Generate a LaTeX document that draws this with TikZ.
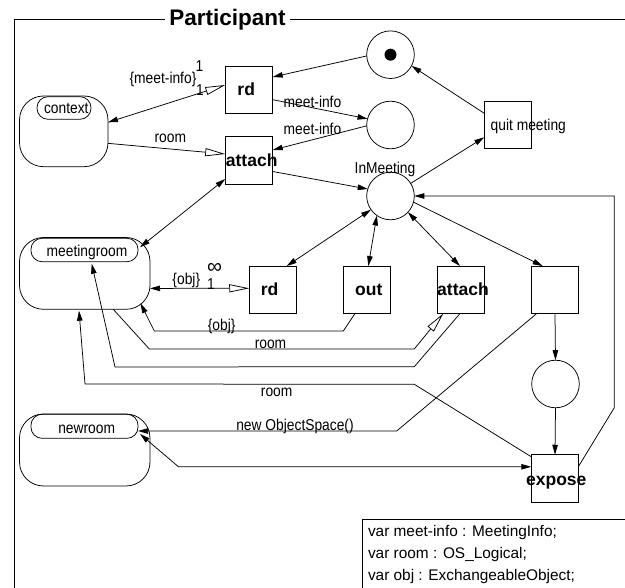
\documentclass[tikz,border=0pt]{standalone}
\usepackage{fontspec}
\usepackage{graphicx}
\setmainfont{Liberation Sans}
\usetikzlibrary{arrows.meta}
\newcommand{\tallt}[1]{\scalebox{1}[1.14]{#1}}
\tikzset{
  ft/.tip={Triangle[length=10pt,width=5.5pt]},
  ot/.tip={Triangle[length=20pt,width=8pt,fill=white]}
}
\begin{document}
\begin{tikzpicture}[x=1pt,y=-1pt,
  every node/.style={inner sep=0pt, outer sep=0pt},
  lw/.style={line width=0.75pt},
  trans/.style={draw, lw, minimum width=47.5pt, minimum height=47.5pt},
  place/.style={draw, lw, circle, minimum size=47.6pt},
  sbox/.style={draw, lw, rounded corners=24pt},
  tab/.style={draw, lw, rounded corners=11pt},
  rl/.style={font=\fontsize{13.8}{16}\selectfont, anchor=base},
  bl/.style={font=\fontsize{17.5}{20}\selectfont\bfseries, anchor=base},
  vl/.style={font=\fontsize{15.4}{18}\selectfont, anchor=base west}
]
\useasboundingbox (0,0) rectangle (625,588);

% frame
\coordinate (fl) at (14,19.5);
\coordinate (fb) at (14,590);
\coordinate (fr) at (626,19.5);
\node[font=\fontsize{22.5}{26}\selectfont\bfseries, anchor=base, inner xsep=4.5pt] (title) at (227.5,25.1) {Participant};
\draw[lw] (fb) -- (fl) -- (title.west |- fl);
\draw[lw] (title.east |- fl) -- (fr);

% transitions
\node[trans] (rd1) at (249,89.7) {};
\node[trans] (att1) at (249,160.5) {};
\node[trans] (quit) at (508,125) {};
\node[trans] (rd2) at (273,289.8) {};
\node[trans] (out) at (367,289.8) {};
\node[trans] (att2) at (461,289.8) {};
\node[trans] (blank) at (555,289.8) {};
\node[trans] (expo) at (555,478.5) {};

% places
\node[place] (tok) at (390.5,54.7) {};
\node[circle, fill, minimum size=12pt] (tokdot) at (tok) {};
\node[place] (p2) at (390.5,125) {};
\node[place] (inm) at (390.5,196) {};
\node[place] (p4) at (555.5,384) {};

% super states
\node[sbox, minimum width=88.5pt, minimum height=70.7pt] (ctx) at (63.75,131.35) {};
\node[tab, minimum width=54pt, minimum height=22.6pt] (ctxt) at (64,108) {};
\node[sbox, minimum width=130.5pt, minimum height=71.8pt] (mr) at (84.75,273.4) {};
\node[tab, minimum width=107pt, minimum height=23.4pt] (mrt) at (84.5,250) {};
\node[sbox, minimum width=130.5pt, minimum height=72pt] (nr) at (84.75,450) {};
\node[tab, minimum width=107pt, minimum height=24pt] (nrt) at (84.5,426.3) {};

% connectors
\draw[lw, -ft] (tok.183) -- ([yshift=12.7pt]rd1.east);
\draw[lw, -ft] ([yshift=-10pt]rd1.east) -- (p2.165);
\draw[lw, -ft] (p2.182) -- ([yshift=10.5pt]att1.east);
\draw[lw, -ot] ([yshift=-12pt]ctx.east) -- ([yshift=6.5pt]att1.west);
\draw[lw, ft-ot] ([yshift=9pt]ctx.east) -- ([yshift=4.7pt]rd1.west);
\draw[lw, -ft] ([yshift=-11pt]att1.east) -- (inm.163);
\draw[lw, -ft] (inm.32) -- ([yshift=-12.3pt]quit.west);
\draw[lw, -ft] ([yshift=11.7pt]quit.west) -- (tok.-28);
\draw[lw, ft-ft] ([xshift=-10pt,yshift=-9.8pt]mr.north east) -- ([yshift=-18.5pt]att1.west);
\draw[lw, ft-ft] (inm.215) -- ([xshift=13.7pt]rd2.north);
\draw[lw, ft-ft] (inm.235) -- ([xshift=1.3pt]out.north);
\draw[lw, ft-ft] (inm.-43) -- ([xshift=-1pt]att2.north);
\draw[lw, -ft] (inm.-15) -- ([xshift=-12.3pt]blank.north);
\draw[lw, -ft] ([yshift=12.5pt]expo.east) -- (614.3,407.7) |- (inm.east);
\draw[lw, ft-ot] ([yshift=-15pt]mr.east) -- ([yshift=1.5pt]rd2.west);
\draw[lw, -ft] ([xshift=-12pt]out.south) -- (343.3,331) -- (154.3,331) -- ([xshift=-9.5pt,yshift=6pt]mr.south east);
\draw[lw, -ot] ([xshift=28.5pt]mr.south) -- (149.3,349) -- (414.3,349) -- ([xshift=-17.7pt]att2.south);
\draw[lw, -ft] ([xshift=-1pt]att2.south) -- (414.3,366.7) -- (115,367) -- ([xshift=7.2pt,yshift=-2pt]mrt.south);
\draw[lw, -ft] ([yshift=-2pt]expo.north west) -- (414.3,384.3) -- (85,384) -- ([xshift=-5.75pt,yshift=-1.4pt]mr.south);
\draw[lw, -ft] ([xshift=-18.3pt]blank.south) -- (396.7,431) -- ([yshift=-4.7pt]nrt.east);
\draw[lw, -ft] (blank.south) -- (p4.north);
\draw[lw, -ft] (p4.south) -- (expo.north);
\draw[lw, ft-ft] ([xshift=2pt,yshift=-7.7pt]nrt.east) -- (178.5,466.8) -- ([yshift=11.7pt]expo.west);

% node texts
\node[bl] (rd1l) at (246.2,95.7) {rd};
\node[bl] (att1l) at (251.7,166.7) {attach};
\node[bl] (rd2l) at (269.5,296) {rd};
\node[bl] (outl) at (368.8,296) {out};
\node[bl] (att2l) at (463,296) {attach};
\node[bl] (expol) at (556.3,486) {expose};
\node[rl, anchor=base west] (quitl) at (490.7,130.7) {\tallt{quit meeting}};
\node[rl] (inml) at (385,173.3) {\tallt{InMeeting}};
\node[rl] (ctxl) at (66.3,113.3) {\tallt{context}};
\node[rl] (mrl) at (87,256.7) {\tallt{meetingroom}};
\node[rl] (nrl) at (86.7,433.3) {\tallt{newroom}};

% connector labels
\node[rl] (lmi) at (163,83.3) {\tallt{\{meet-info\}}};
\node[rl] (l1a) at (199.5,71.7) {\tallt{1}};
\node[rl] (l1b) at (200,95.7) {\tallt{1}};
\node[rl] (lroom1) at (170.3,142.7) {\tallt{room}};
\node[rl] (lmi2) at (312.5,107.3) {\tallt{meet-info}};
\node[rl] (lmi3) at (312.5,135) {\tallt{meet-info}};
\node[rl] (lobj1) at (186.3,285) {\tallt{\{obj\}}};
\node[font=\fontsize{21}{24}\selectfont, anchor=center] (linf) at (214.5,268.7) {∞};
\node[rl] (l1c) at (211,289.3) {\tallt{1}};
\node[rl] (lobj2) at (221.7,331) {\tallt{\{obj\}}};
\node[rl] (lroom2) at (270.5,348.5) {\tallt{room}};
\node[rl] (lroom3) at (276.7,396.7) {\tallt{room}};
\node[rl] (lnew) at (295,430.5) {\tallt{new ObjectSpace()}};

% declarations box
\node[draw, lw, anchor=north west, minimum width=300pt, minimum height=100pt] (vbox) at (362.3,519) {};
\node[vl] (v1) at (368,536.7) {var meet-info : MeetingInfo;};
\node[vl] (v2) at (368,558.3) {var room : OS\_Logical;};
\node[vl] (v3) at (368,580) {var obj : ExchangeableObject;};
\end{tikzpicture}
\end{document}
